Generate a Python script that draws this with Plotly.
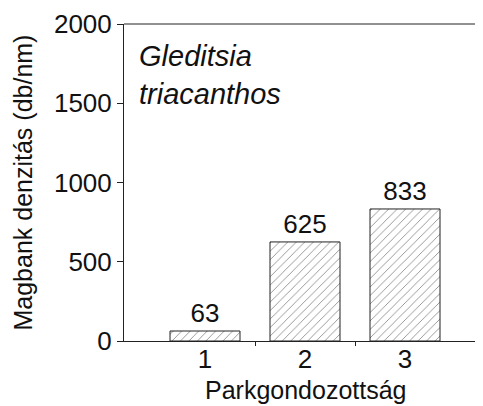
import plotly.graph_objects as go

categories = [1, 2, 3]
values = [63, 625, 833]
value_labels = ["63", "625", "833"]
y_ticks = [0, 500, 1000, 1500, 2000]
x_tick_labels = ["1", "2", "3"]
boundary_ticks = [1.5, 2.5]

FONT = "Liberation Sans, Arial, sans-serif"
FS_TICK = 26
FS_TITLE = 25

fig = go.Figure()
fig.add_trace(go.Bar(
    x=categories, y=values, width=0.7,
    text=value_labels, textposition="outside", cliponaxis=False,
    textfont=dict(family=FONT, size=FS_TICK, color="#111"),
    marker=dict(color="white", line=dict(color="#222", width=1),
                pattern=dict(shape="/", fgcolor="#111", bgcolor="white",
                             size=6, solidity=0.14)),
    xaxis="x", yaxis="y", showlegend=False,
))
fig.add_trace(go.Scatter(x=categories, y=[None]*3, xaxis="x2", yaxis="y",
                         showlegend=False, hoverinfo="skip"))

fig.update_layout(
    width=475, height=398,
    margin=dict(l=116, r=0, t=16, b=65, autoexpand=False),
    paper_bgcolor="white", plot_bgcolor="white",
    font=dict(family=FONT, size=FS_TICK, color="#111"),
    xaxis=dict(range=[0.19, 3.78], tickvals=boundary_ticks, ticktext=["", ""],
               ticks="outside", ticklen=4, tickcolor="#222", tickwidth=1,
               showline=True, linecolor="#222", linewidth=1, automargin=False,
               showgrid=False, zeroline=False, showticklabels=False),
    xaxis2=dict(overlaying="x", matches="x", side="bottom", automargin=False,
                tickvals=categories, ticktext=x_tick_labels, ticks="",
                showline=False, showgrid=False, zeroline=False,
                tickfont=dict(size=FS_TICK)),
    yaxis=dict(range=[0, 2000], tickvals=y_ticks, ticks="outside", ticklen=6,
               tickcolor="#222", tickwidth=1, showline=True, linecolor="#222",
               linewidth=1, showgrid=False, zeroline=False, automargin=False,
               tickfont=dict(size=FS_TICK)),
    shapes=[dict(type="line", xref="paper", yref="paper", x0=0, x1=1, y0=1, y1=1,
                 line=dict(color="#222", width=1))],
    annotations=[
        dict(text="<i>Gleditsia<br>triacanthos</i>", xref="paper", yref="paper",
             x=0.035, y=0.955, xanchor="left", yanchor="top", showarrow=False,
             align="left", font=dict(size=29, family=FONT, color="#111")),
        dict(text="Magbank denzitás (db/nm)", xref="paper", yref="paper",
             x=-0.284, y=0.5, xanchor="center", yanchor="middle", textangle=-90,
             showarrow=False, font=dict(size=FS_TITLE, family=FONT, color="#111")),
        dict(text="Parkgondozottság", xref="paper", yref="paper",
             x=0.507, y=-0.205, xanchor="center", yanchor="bottom",
             showarrow=False, font=dict(size=FS_TITLE, family=FONT, color="#111")),
    ],
)

fig.write_html("out.html")
